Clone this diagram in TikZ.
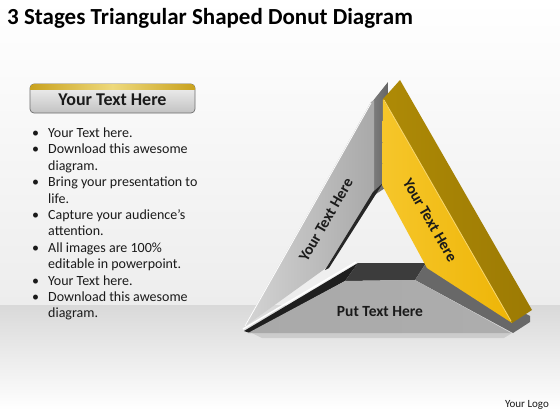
\documentclass[tikz,border=0pt]{standalone}
\usepackage{fontspec}
\setmainfont{Carlito}
\definecolor{bgmid}{HTML}{EDEDED}
\definecolor{floortop}{HTML}{D9D9D9}
\definecolor{armlight}{HTML}{D4D4D4}
\definecolor{armdark}{HTML}{A9A9A9}
\definecolor{armside}{HTML}{7E7E7E}
\definecolor{basetop}{HTML}{3C3C3C}
\definecolor{baseside}{HTML}{686868}
\definecolor{yelfront}{HTML}{EEB507}
\definecolor{yelfrontlt}{HTML}{F6C62A}
\definecolor{yelside}{HTML}{AE8A06}
\definecolor{yelsidedk}{HTML}{9C7A04}
\definecolor{gold}{HTML}{C9A21E}
\definecolor{goldlt}{HTML}{EED97C}
\definecolor{btnlt}{HTML}{F2F2F2}
\definecolor{btndk}{HTML}{C2C2C2}
\definecolor{btnedge}{HTML}{6E6E6E}
\definecolor{txt}{HTML}{1A1A1A}
\tikzset{
  lbl/.style={font=\fontsize{15.5}{18}\selectfont\bfseries, text=txt, inner sep=0pt},
  bul/.style={font=\fontsize{14}{16}\selectfont, text=txt, inner sep=0pt, anchor=base west},
}
\begin{document}
\begin{tikzpicture}[x=1pt,y=-1pt]
\useasboundingbox (0,0) rectangle (560,420);
% background
\shade[top color=white, bottom color=bgmid] (0,0) rectangle (560,305);
\shade[top color=floortop, bottom color=white] (0,305) rectangle (560,410);
\fill[white] (0,410) rectangle (560,420);
% title
\node[font=\fontsize{23}{27}\selectfont\bfseries, text=black, inner sep=0pt, anchor=base west] (title) at (7,25) {3 Stages Triangular Shaped Donut Diagram};
% header button
\shade[top color=btnlt, bottom color=btndk, draw=btnedge, line width=0.7pt, rounded corners=4pt] (30,84) rectangle (195,113);
\begin{scope}
  \clip[rounded corners=4pt] (30,84) rectangle (195,113);
  \shade[left color=gold, right color=gold, middle color=goldlt] (30,84) rectangle (195,89.5);
\end{scope}
\node[font=\fontsize{18}{21}\selectfont\bfseries, text=txt, inner sep=0pt] (head) at (112.5,99.5) {Your Text Here};
% bullets
\foreach \yy/\bb/\tt in {
  133/1/{Your Text here.},
  149.4/1/{Download this awesome},
  165.8/0/{diagram.},
  182.2/1/{Bring your presentation to},
  198.6/0/{life.},
  215/1/{Capture your audience’s},
  231.4/0/{attention.},
  247.8/1/{All images are 100\%},
  264.2/0/{editable in powerpoint.},
  280.6/1/{Your Text here.},
  297/1/{Download this awesome},
  313.4/0/{diagram.}} {
  \ifnum\bb=1 \node[bul] at (32,\yy+4.5) {•}; \fi
  \node[bul] at (48,\yy+4.5) {\tt};
}
% shadow under triangle
\fill[black, opacity=0.10] (252,333) -- (512,333) -- (504,338) -- (262,338) -- cycle;
% left arm side strip
\shade[left color=armside, right color=armside!80!black] (372,102) -- (388,82) -- (388,186) -- (373,196) -- cycle;
% left arm face
\shade[shading angle=-30, left color=armlight, right color=armdark] (371,102) -- (374,100) -- (374,191) -- (326,268) -- (244,327) -- cycle;
\draw[white, line width=0.8pt] (371,103) -- (245,326);
% inner shadow of left arm
\fill[black!85] (373,192) -- (383,183) -- (329,268) -- (325,270) -- cycle;
% bottom piece
\draw[white, line width=1.4pt] (243,329) -- (356,262);
\fill[black!88] (358,263) -- (345,281) -- (250,333) -- (244,331) -- cycle;
\fill[basetop] (358,263) -- (426,263) -- (415,280) -- (345,281) -- cycle;
\fill[baseside] (426,263) -- (530,316) -- (530,322) -- (513,333) -- (415,280) -- cycle;
\shade[left color=armdark, middle color=armlight!95, right color=armdark!95] (345,281) -- (415,280) -- (511,333) -- (248,333) -- cycle;
% yellow arm
\shade[left color=yelside, right color=yelsidedk] (383,99) -- (400,80) -- (532,310) -- (512,323) -- cycle;
\shade[shading angle=-30, left color=yelfrontlt, right color=yelfront] (383,99) -- (382,185) -- (427,268) -- (512,323) -- cycle;
\draw[yelfrontlt!70!white, line width=0.8pt] (384,100) -- (511,321);
% labels
\node[lbl, rotate=60] (tl) at (326,220) {Your Text Here};
\node[lbl, rotate=-60] (tr) at (430,220) {Your Text Here};
\node[lbl] (tb) at (380,312) {Put Text Here};
\node[font=\fontsize{11}{13}\selectfont, text=txt, inner sep=0pt] (logo) at (527,405) {Your Logo};
\end{tikzpicture}
\end{document}
